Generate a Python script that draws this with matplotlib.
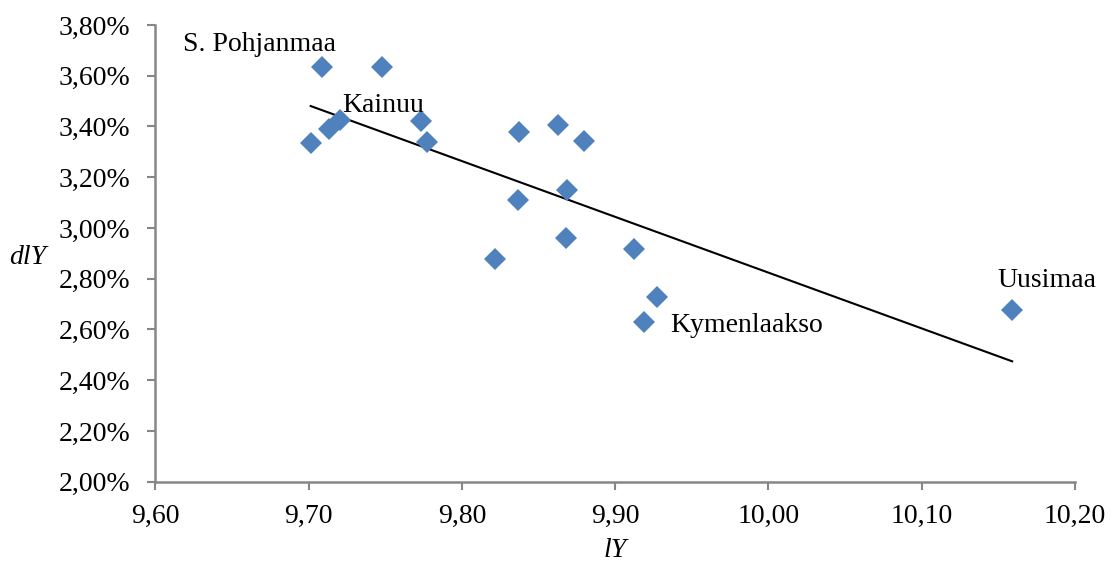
import numpy as np
import matplotlib
matplotlib.use("Agg")
import matplotlib.pyplot as plt
from matplotlib.ticker import FuncFormatter

# regional data: log income level vs income growth
lY = [9.7085, 9.7477, 9.7014, 9.7135, 9.7205, 9.7731, 9.7770,
      9.8373, 9.8625, 9.8795, 9.8368, 9.8686, 9.8677, 9.8218,
      9.9123, 9.9271, 9.9190, 10.1590]
dlY = [3.633, 3.633, 3.336, 3.392, 3.425, 3.422, 3.338,
       3.379, 3.406, 3.344, 3.112, 3.149, 2.959, 2.877,
       2.918, 2.728, 2.628, 2.676]

labels = ["S. Pohjanmaa", "Kainuu", "Kymenlaakso", "Uusimaa"]
label_x = [9.618, 9.7218, 9.9357, 10.1496]
label_y = [3.725, 3.484, 2.617, 2.794]

x_ticks = [9.60, 9.70, 9.80, 9.90, 10.00, 10.10, 10.20]
y_ticks = [2.0, 2.2, 2.4, 2.6, 2.8, 3.0, 3.2, 3.4, 3.6, 3.8]

plt.rcParams['font.family'] = ['Liberation Serif', 'DejaVu Serif']

fig = plt.figure(figsize=(11.17, 5.65), dpi=100)
ax = fig.add_axes([0.139, 0.1474, 0.8234, 0.8084])

ax.plot(lY, dlY, linestyle="none", marker="D", markersize=11,
        color="#4F81BD", markeredgewidth=0, zorder=3)

# linear trend line
k, b = np.polyfit(lY, dlY, 1)
xs = np.array([min(lY), max(lY)])
ax.plot(xs, k * xs + b, color="black", linewidth=1.5, zorder=2)

for t, tx, ty in zip(labels, label_x, label_y):
    ax.text(tx, ty, t, fontsize=20, ha="left", va="center", zorder=4)

ax.set_xlim(9.60, 10.20)
ax.set_ylim(2.0, 3.8)
ax.set_xticks(x_ticks)
ax.set_yticks(y_ticks)
ax.xaxis.set_major_formatter(FuncFormatter(lambda v, p: f"{v:.2f}".replace(".", ",")))
ax.yaxis.set_major_formatter(FuncFormatter(lambda v, p: f"{v:.2f}%".replace(".", ",")))

for s in ["top", "right"]:
    ax.spines[s].set_visible(False)
for s in ["left", "bottom"]:
    ax.spines[s].set_color("#868686")
    ax.spines[s].set_linewidth(1.8)
ax.tick_params(colors="#868686", labelcolor="black", labelsize=20,
               length=6, width=1.5, direction="out")
ax.tick_params(axis="x", pad=10)
ax.tick_params(axis="y", pad=12)

ax.set_xlabel("lY", fontsize=20, style="italic", va="center")
ax.xaxis.set_label_coords(0.5, -0.15)
ax.set_ylabel("dlY", fontsize=20, style="italic", rotation=0,
              ha="center", va="center")
ax.yaxis.set_label_coords(-0.139, 0.49)

fig.savefig("out.png", dpi=100)
